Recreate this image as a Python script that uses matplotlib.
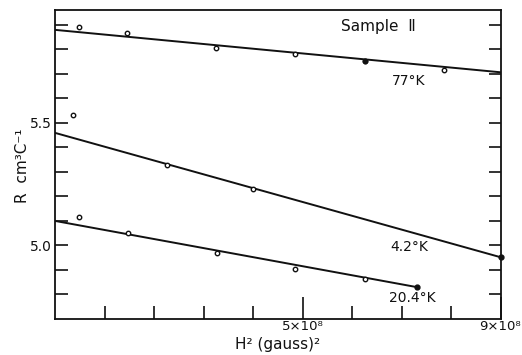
import numpy as np
import matplotlib
matplotlib.use('Agg')
import matplotlib.pyplot as plt

# H^2 in units of 1e8 gauss^2, R in cm^3/C
x_77 = [0.485, 1.45, 3.25, 4.85, 6.26, 7.86]
r_77 = [5.892, 5.866, 5.805, 5.779, 5.753, 5.715]
fit_77_x = [0.0, 9.0]
fit_77_r = [5.879, 5.706]

x_42 = [0.357, 2.256, 4.01]
r_42 = [5.531, 5.327, 5.230]
fit_42_x = [0.0, 9.0]
fit_42_r = [5.459, 4.952]

x_204 = [0.485, 1.47, 3.28, 4.85, 6.26]
r_204 = [5.115, 5.049, 4.970, 4.903, 4.865]
fit_204_x = [0.0, 7.31]
fit_204_r = [5.100, 4.830]

x_tick_labels = ['5×10⁸', '9×10⁸']

plt.rcParams['font.family'] = ['DejaVu Sans']
fig = plt.figure(figsize=(5.22, 3.55), dpi=100)
ax = fig.add_axes([55/522, 1-319/355, (500.5-55)/522, (319-9.5)/355])

ink = '#111111'
# fitted lines, closed dots at line ends
ax.plot(fit_77_x, fit_77_r, color=ink, lw=1.4)
ax.plot(fit_42_x, fit_42_r, color=ink, lw=1.4)
ax.plot(fit_204_x, fit_204_r, color=ink, lw=1.4)

ax.plot(x_77, r_77, 'o', ms=3.2, mfc='white', mec=ink, mew=1.0)
ax.plot(x_42, r_42, 'o', ms=3.2, mfc='white', mec=ink, mew=1.0)
ax.plot(x_204, r_204, 'o', ms=3.2, mfc='white', mec=ink, mew=1.0)
ax.plot([6.26], [5.753], 'o', ms=3.2, color=ink)
ax.plot([fit_42_x[1]], [fit_42_r[1]], 'o', ms=3.5, color=ink, clip_on=False)
ax.plot([fit_204_x[1]], [fit_204_r[1]], 'o', ms=3.5, color=ink)

ax.set_xlim(0, 9)
ax.set_ylim(4.7, 5.962)

ax.set_xticks([5, 9])
ax.set_xticklabels(x_tick_labels, fontsize=9.5)
ax.set_xticks([1, 2, 3, 4, 6, 7, 8], minor=True)
ax.tick_params(axis='x', which='major', direction='in', length=16, width=1.2, pad=1, colors=ink)
ax.tick_params(axis='x', which='minor', direction='in', length=9.5, width=1.2, colors=ink)

yt = np.round(np.arange(4.8, 5.95, 0.1), 1)
ax.set_yticks(yt)
ax.set_yticklabels(['5.0' if v == 5.0 else '5.5' if v == 5.5 else '' for v in yt], fontsize=10)
ax.tick_params(axis='y', which='major', direction='in', length=9, width=1.2, pad=2,
               left=True, right=True, colors=ink)

for s in ax.spines.values():
    s.set_linewidth(1.3)
    s.set_color(ink)

ax.text(6.53, 5.892, 'Sample  Ⅱ', ha='center', va='center', fontsize=11, color=ink)
ax.text(7.15, 5.670, '77°K', ha='center', va='center', fontsize=10, color=ink)
ax.text(7.15, 4.994, '4.2°K', ha='center', va='center', fontsize=10, color=ink)
ax.text(7.21, 4.784, '20.4°K', ha='center', va='center', fontsize=10, color=ink)

fig.text(23/522, 1-166/355, 'R  cm³C⁻¹', rotation=90, ha='center', va='center',
         fontsize=11, color=ink)
fig.text(278/522, 1-345/355, 'H² (gauss)²', ha='center', va='center',
         fontsize=11, color=ink)

fig.savefig('out.png', dpi=100)
